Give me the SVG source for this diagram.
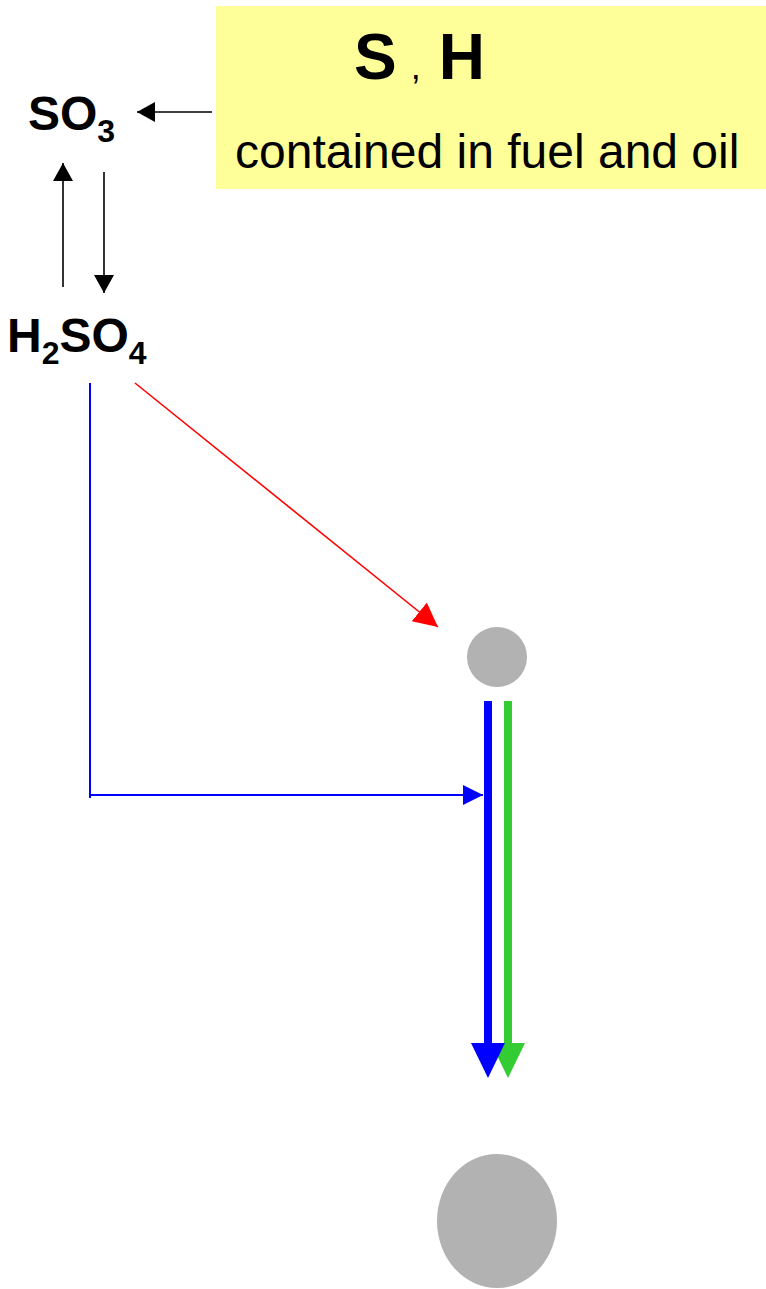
<svg xmlns="http://www.w3.org/2000/svg" width="766" height="1289" viewBox="0 0 766 1289">
<defs>
<style>
.lbl{font-family:"Liberation Sans",Arial,sans-serif;font-weight:bold;fill:#000}
.txt{font-family:"Liberation Sans",Arial,sans-serif;fill:#000}
.blk{stroke:#000;stroke-width:1.6;fill:none}
</style>
<marker id="ak" markerUnits="userSpaceOnUse" markerWidth="22" markerHeight="22" refX="18" refY="10" orient="auto"><path d="M0,0 L18,10 L0,20 Z" fill="#000"/></marker>
<marker id="ab" markerUnits="userSpaceOnUse" markerWidth="22" markerHeight="22" refX="20" refY="10" orient="auto"><path d="M0,0 L20,10 L0,20 Z" fill="#0000FF"/></marker>
<marker id="ar" markerUnits="userSpaceOnUse" markerWidth="26" markerHeight="26" refX="24" refY="12" orient="auto"><path d="M0,0 L24,12 L0,24 Z" fill="#FF0000"/></marker>
</defs>
<g id="source">
<rect x="216" y="6" width="550" height="183" fill="#FFFF99"/>
<text class="lbl" x="354" y="79" font-size="64">S<tspan class="txt" font-weight="normal" font-size="36" dx="14">,</tspan><tspan dx="18">H</tspan></text>
<text class="txt" x="235" y="168" font-size="48">contained in fuel and oil</text>
</g>
<g id="so3">
<text class="lbl" x="28" y="130" font-size="48">SO<tspan font-size="32" dy="12">3</tspan></text>
</g>
<g id="h2so4">
<text class="lbl" x="7" y="352" font-size="48">H<tspan font-size="32" dy="12">2</tspan><tspan dy="-12">SO</tspan><tspan font-size="32" dy="12">4</tspan></text>
</g>
<g id="particle">
<circle cx="497" cy="657" r="30" fill="#B2B2B2"/>
</g>
<g id="surface">
<ellipse cx="497" cy="1221" rx="60" ry="67" fill="#B2B2B2"/>
</g>
<g id="connectors">
<line class="blk" x1="212" y1="112" x2="137" y2="112" marker-end="url(#ak)"/>
<line class="blk" x1="63" y1="287" x2="63" y2="163" marker-end="url(#ak)"/>
<line class="blk" x1="104" y1="172" x2="104" y2="293" marker-end="url(#ak)"/>
<polyline points="90,383 90,798" fill="none" stroke="#0000FF" stroke-width="2"/>
<line x1="90" y1="795" x2="483" y2="795" stroke="#0000FF" stroke-width="2" marker-end="url(#ab)"/>
<line x1="135" y1="383" x2="438" y2="627" stroke="#FF0000" stroke-width="1.6" marker-end="url(#ar)"/>
<line x1="488" y1="701" x2="488" y2="1046" stroke="#0000FF" stroke-width="8"/>
<line x1="508" y1="701" x2="508" y2="1046" stroke="#33CC33" stroke-width="8"/>
<polygon points="491,1043 525,1043 508,1078" fill="#33CC33"/>
<polygon points="471,1043 505,1043 488,1078" fill="#0000FF"/>
</g>
</svg>
